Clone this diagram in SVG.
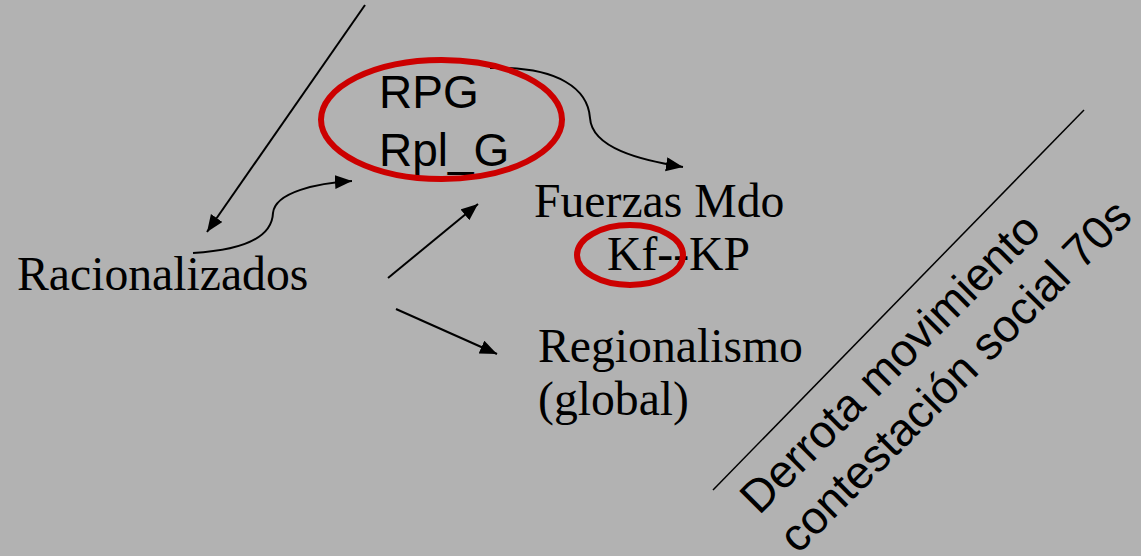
<svg xmlns="http://www.w3.org/2000/svg" width="1141" height="556" viewBox="0 0 1141 556">
<defs>
<style>
.serif{font-family:"Liberation Serif","Times New Roman",serif;font-size:47.7px;fill:#000}
.sans{font-family:"Liberation Sans",Arial,sans-serif;font-size:46px;fill:#000}
.conn{fill:none;stroke:#000;stroke-width:2}
.ring{fill:none;stroke:#cc0000;stroke-width:6}
</style>
<marker id="ah" markerUnits="userSpaceOnUse" markerWidth="20" markerHeight="16" refX="17" refY="7" orient="auto">
<path d="M0,0 L17,7 L0,14 Z" fill="#000"/>
</marker>
</defs>
<rect width="1141" height="556" fill="#b2b2b2"/>
<g id="connectors">
<line class="conn" x1="365" y1="5" x2="207" y2="232" marker-end="url(#ah)"/>
<path class="conn" d="M193,253 C245,250 272,237 273,213 C275,192 318,183 352,181" marker-end="url(#ah)"/>
<line class="conn" x1="388" y1="278" x2="478" y2="204" marker-end="url(#ah)"/>
<line class="conn" x1="396" y1="309" x2="497" y2="354" marker-end="url(#ah)"/>
<path class="conn" d="M490,68 C560,66 588,90 590,118 C592,148 640,160 683,167" marker-end="url(#ah)"/>
</g>
<g id="node-rpg">
<text class="sans" x="379" y="108">RPG</text>
<text class="sans" x="379" y="166">Rpl_G</text>
<ellipse class="ring" cx="441.5" cy="119.5" rx="120.5" ry="59.5"/>
</g>
<g id="node-racionalizados">
<text class="serif" x="17" y="290">Racionalizados</text>
</g>
<g id="node-fuerzas">
<text class="serif" x="534" y="217">Fuerzas Mdo</text>
<text class="serif" x="607" y="270">Kf--KP</text>
<ellipse class="ring" cx="630" cy="255" rx="53" ry="30"/>
</g>
<g id="node-regionalismo">
<text class="serif" x="538" y="362">Regionalismo</text>
<text class="serif" x="538" y="415">(global)</text>
</g>
<g id="divider">
<line x1="713" y1="490" x2="1084" y2="110" stroke="#000" stroke-width="1.5"/>
<g transform="translate(759,516) rotate(-45)">
<text class="sans" x="0" y="0">Derrota movimiento</text>
<text class="sans" x="0" y="55">contestación social 70s</text>
</g>
</g>
</svg>
